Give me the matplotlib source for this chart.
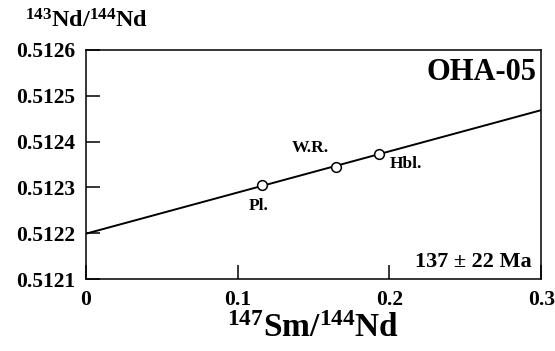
import numpy as np
import matplotlib.pyplot as plt
from matplotlib.ticker import FormatStrFormatter

plt.rcParams['font.family'] = ['Liberation Serif', 'DejaVu Serif']
plt.rcParams['font.weight'] = 'bold'
plt.rcParams['mathtext.fontset'] = 'custom'
plt.rcParams['mathtext.rm'] = 'Liberation Serif:bold'
plt.rcParams['mathtext.default'] = 'rm'

# isochron data
samples = ['Pl.', 'W.R.', 'Hbl.']
sm_nd = [0.116, 0.165, 0.193]
nd_nd = [0.512305, 0.512345, 0.512373]
nd_err = [0.000008, 0.0, 0.0]

intercept = 0.512199
slope = 0.000898
line_x = [0.0, 0.3]

label_offsets = [(-0.002, -0.000045), (-0.017, 0.000040), (0.018, -0.000022)]

fig = plt.figure(figsize=(5.55, 3.51), dpi=100)
ax = fig.add_axes([0.155, 0.205, 0.82, 0.653])

lx = np.array(line_x)
ax.plot(lx, intercept + slope * lx, color='black', lw=1.4, zorder=2)
ax.errorbar(sm_nd, nd_nd, yerr=nd_err, fmt='o', ms=7, mfc='white', mec='black',
            mew=1.1, ecolor='black', elinewidth=1, capsize=0, zorder=3)

for name, x, y, (dx, dy) in zip(samples, sm_nd, nd_nd, label_offsets):
    ax.text(x + dx, y + dy, name, ha='center', va='center', fontsize=12.5, fontweight='bold')

ax.text(0.297, 0.51255, 'OHA-05', ha='right', va='center', fontsize=22, fontweight='bold')
ax.text(0.294, 0.512138, '137 \u00b1 22 Ma', ha='right', va='center', fontsize=16, fontweight='bold')

ax.set_xlim(0, 0.3)
ax.set_ylim(0.5121, 0.5126)
ax.set_xticks([0, 0.1, 0.2, 0.3])
ax.set_xticklabels(['0', '0.1', '0.2', '0.3'])
ax.set_yticks([0.5121, 0.5122, 0.5123, 0.5124, 0.5125, 0.5126])
ax.yaxis.set_major_formatter(FormatStrFormatter('%.4f'))
ax.tick_params(direction='in', length=10, width=1.1, labelsize=15.5, pad=8)
for lab in ax.get_xticklabels() + ax.get_yticklabels():
    lab.set_fontweight('bold')
for s in ax.spines.values():
    s.set_linewidth(1.1)

ax.set_xlabel('$^{147}$Sm/$^{144}$Nd', fontsize=24, fontweight='bold', labelpad=2)
fig.text(0.045, 0.94, '$^{143}$Nd/$^{144}$Nd', fontsize=17.5, fontweight='bold', va='center')

fig.savefig('out.png', dpi=100)
